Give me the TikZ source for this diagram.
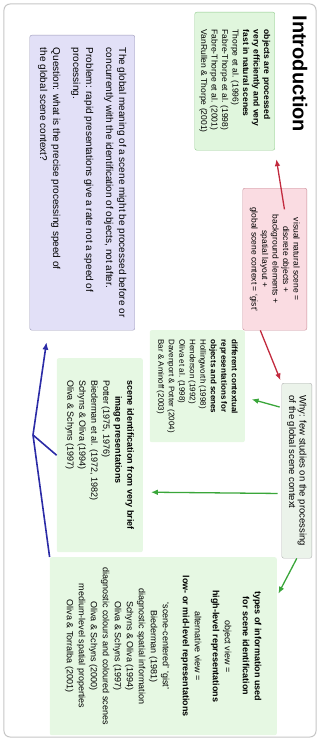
\documentclass[tikz,border=0pt]{standalone}
\usepackage{fontspec}
\setmainfont{Liberation Sans}
\usetikzlibrary{arrows.meta,calc}

\definecolor{fillgreen}{HTML}{E0F6DD}
\definecolor{edgegreen}{HTML}{8FC98C}
\definecolor{softgreen}{HTML}{E6F8E3}
\definecolor{fillpink}{HTML}{FADCE2}
\definecolor{edgepink}{HTML}{C88C97}
\definecolor{filllav}{HTML}{E2E0F7}
\definecolor{edgelav}{HTML}{9C9AB8}
\definecolor{fillwhy}{HTML}{EBF3EA}
\definecolor{arrred}{HTML}{C22A3E}
\definecolor{arrgreen}{HTML}{3AA63A}
\definecolor{arrblue}{HTML}{2B2BA6}

\begin{document}
\begin{tikzpicture}[x=1pt,y=1pt,rotate=-90,transform shape,
  font=\fontsize{8.5}{10.5}\selectfont,
  box/.style={anchor=north west,rounded corners=2pt,align=left,inner sep=3pt},
  obj/.style={box,fill=fillgreen,draw=edgegreen},
  sub/.style={box,fill=softgreen},
  r/.style={draw=arrred,line width=1.3pt,-{Latex[length=2.4mm,width=2mm]}},
  g/.style={draw=arrgreen,line width=1.3pt,-{Latex[length=2.4mm,width=2mm]}},
  bl/.style={draw=arrblue,line width=1.6pt}]
\useasboundingbox (0,0) rectangle (741,-320);
\draw[gray!45,line width=1pt,rounded corners=6pt] (4,-4) rectangle (737,-316);
\node[anchor=west,font=\fontsize{20}{24}\selectfont\bfseries] (title) at (12,-20) {Introduction};
\node[obj,minimum width=138,minimum height=80] (fast) at (12,-45)
  {\textbf{objects are processed}\\\textbf{very efficiently and very}\\\textbf{fast in natural scenes}\\
   Thorpe et al. (1996)\\Fabre-Thorpe et al. (1998)\\Fabre-Thorpe et al. (2001)\\VanRullen \& Thorpe (2001)};
\node[box,align=center,fill=fillpink,draw=edgepink,minimum width=142,minimum height=64] (gist) at (188,-13)
  {visual natural scene =\\discrete objects +\\background elements +\\spatial layout +\\global scene context = `gist'};
\node[box,fill=fillwhy,draw=gray!60,minimum width=175,minimum height=30,inner sep=2pt,
  font=\fontsize{9.5}{10.5}\selectfont] (why) at (383,-8)
  {Why: few studies on the processing\\of the global scene context};
\node[sub,minimum width=112,minimum height=95,font=\fontsize{8}{10.5}\selectfont] (ctx) at (330,-75)
  {\textbf{different contextual}\\\textbf{representations for}\\\textbf{objects and scenes}\\Hollingworth (1998)\\
   Henderson (1992)\\Oliva et al. (1998)\\Davenport \& Potter (2004)\\Bar \& Aminoff (2003)};
\node[sub,minimum width=194,minimum height=86,font=\fontsize{9}{12}\selectfont] (brief) at (358,-177)
  {\textbf{scene identification from very brief}\\\hspace*{16pt}\textbf{image presentations}\\
   Potter (1975, 1976)\\Biederman et al. (1972, 1982)\\Schyns \& Oliva (1994)\\Oliva \& Schyns (1997)};
\node[sub,align=center,minimum width=178,minimum height=227,font=\fontsize{9}{12}\selectfont] (types) at (557,-43)
  {\textbf{types of information used}\\\textbf{for scene identification}\\[6pt]
   object view =\\\textbf{high-level representations}\\[6pt]
   alternative view =\\\textbf{low- or mid-level representations}\\[8pt]
   `scene-centered' `gist'\\Biederman (1981)\\diagnostic spatial information\\Schyns \& Oliva (1994)\\
   Oliva \& Schyns (1997)\\diagnostic colours and coloured scenes\\Oliva \& Schyns (2000)\\
   medium-level spatial properties\\Oliva \& Torralba (2001)};
\node[box,fill=filllav,draw=edgelav,minimum width=295,minimum height=105,
  font=\fontsize{10}{13}\selectfont] (global) at (35,-185)
  {The global meaning of a scene might be processed before or\\
   concurrently with the identification of objects, not after.\\[7pt]
   Problem: rapid presentations give a rate not a speed of\\processing.\\[7pt]
   Question: what is the precise processing speed of\\the global scene context?};
\coordinate (J) at (435,-287);
% arrows
\draw[r,shorten >=9pt] ($(gist.west)!.3!(gist.north)$) -- (fast.north east);
\draw[r,shorten >=3pt] ($(gist.east)!.45!(gist.south east)$) -- (why.south west);
\draw[g,shorten <=2pt,shorten >=7pt] ($(why.south west)!.14!(why.south east)$) -- ($(ctx.north west)!.6!(ctx.north east)$);
\draw[g,shorten <=4pt,shorten >=8pt] ($(why.south west)!.63!(why.south east)$) -- ($(brief.north west)!.69!(brief.north east)$);
\draw[g,shorten >=3pt] (why.east) -- ($(types.north west)!.22!(types.north east)$);
\draw[bl] (types.south west) -- (J);
\draw[bl] (brief.south) -- (J);
\draw[bl,-{Latex[length=2.6mm,width=2.2mm]},shorten >=12pt] (J) -- (global.-13.5);
\end{tikzpicture}
\end{document}
